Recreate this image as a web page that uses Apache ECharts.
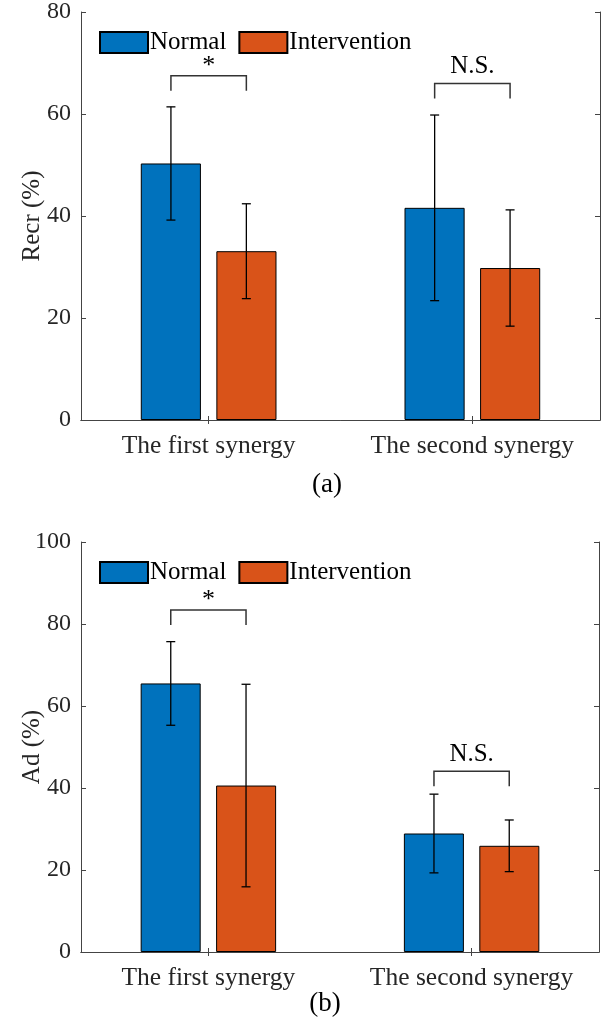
<!DOCTYPE html>
<html>
<head>
<meta charset="utf-8">
<script src="https://cdn.jsdelivr.net/npm/echarts@6/dist/echarts.min.js"></script>
<style>
  html, body { margin: 0; padding: 0; background: #fff; }
  #chart { width: 605px; height: 1021px; }
</style>
</head>
<body>
<div id="chart"></div>
<script>
// data
const categories = ['The first synergy', 'The second synergy']
const groupX = [1, 2]
const seriesNames = ['Normal', 'Intervention']

const recrNormal = [50.3, 41.6]
const recrNormalErr = [11.1, 18.2]
const recrInterv = [33.1, 29.8]
const recrIntervErr = [9.3, 11.4]
const recrSigTop = [67.5, 66.0]
const recrSigText = ['*', 'N.S.']

const adNormal = [65.5, 28.9]
const adNormalErr = [10.2, 9.6]
const adInterv = [40.6, 25.9]
const adIntervErr = [24.7, 6.3]
const adSigTop = [83.4, 44.1]
const adSigText = ['*', 'N.S.']

const yTicksA = [0, 80, 20]   // min, max, step
const yTicksB = [0, 100, 20]

const FONT = 'Liberation Serif'
const TXT = '#262626'
const AX = '#444'
const OFF = 0.143   // group offset in x units

let myChart = echarts.init(document.getElementById('chart'))

function errRender (sign) {
  return function (params, api) {
    const unit = api.size([1, 0])[0]
    const hi = api.coord([api.value(0), api.value(1)])
    const lo = api.coord([api.value(0), api.value(2)])
    const x = hi[0] + sign * OFF * unit
    const st = { stroke: '#000', lineWidth: 1.3 }
    return {
      type: 'group',
      children: [
        { type: 'line', shape: { x1: x, y1: hi[1], x2: x, y2: lo[1] }, style: st },
        { type: 'line', shape: { x1: x - 4.5, y1: hi[1], x2: x + 4.5, y2: hi[1] }, style: st },
        { type: 'line', shape: { x1: x - 4.5, y1: lo[1], x2: x + 4.5, y2: lo[1] }, style: st }
      ]
    }
  }
}

function sigRender (texts) {
  return function (params, api) {
    const unit = api.size([1, 0])[0]
    const p = api.coord([api.value(0), api.value(1)])
    const l = p[0] - OFF * unit
    const r = p[0] + OFF * unit
    const t = texts[params.dataIndex]
    return {
      type: 'group',
      children: [
        {
          type: 'polyline',
          shape: { points: [[l, p[1] + 15], [l, p[1]], [r, p[1]], [r, p[1] + 15]] },
          style: { stroke: '#333', lineWidth: 1.5, fill: null }
        },
        {
          type: 'text',
          x: p[0],
          y: t === '*' ? p[1] + 3 : p[1] - 4,
          style: {
            text: t,
            fontSize: t === '*' ? 26 : 25,
            fontFamily: FONT,
            fill: '#000',
            align: 'center',
            verticalAlign: 'bottom'
          }
        }
      ]
    }
  }
}

function panelSeries (g, normal, normalErr, interv, intervErr, sigTop, sigText) {
  const ax = { xAxisIndex: 2 * g, yAxisIndex: 2 * g }
  return [
    Object.assign({
      name: seriesNames[0],
      type: 'bar',
      data: groupX.map((x, i) => [x, normal[i]]),
      barWidth: '22.8%',
      barGap: '25.7%',
      itemStyle: { color: '#0072BD', borderColor: '#000', borderWidth: 1 }
    }, ax),
    Object.assign({
      name: seriesNames[1],
      type: 'bar',
      data: groupX.map((x, i) => [x, interv[i]]),
      barWidth: '22.8%',
      barGap: '25.7%',
      itemStyle: { color: '#D95319', borderColor: '#000', borderWidth: 1 }
    }, ax),
    Object.assign({
      type: 'custom',
      silent: true,
      z: 5,
      renderItem: errRender(-1),
      data: groupX.map((x, i) => [x, normal[i] + normalErr[i], normal[i] - normalErr[i]])
    }, ax),
    Object.assign({
      type: 'custom',
      silent: true,
      z: 5,
      renderItem: errRender(1),
      data: groupX.map((x, i) => [x, interv[i] + intervErr[i], interv[i] - intervErr[i]])
    }, ax),
    Object.assign({
      type: 'custom',
      silent: true,
      z: 5,
      renderItem: sigRender(sigText),
      data: groupX.map((x, i) => [x, sigTop[i]])
    }, ax)
  ]
}

function xAxes (g) {
  const base = {
    type: 'value',
    gridIndex: g,
    min: 0.516,
    max: 2.484,
    splitLine: { show: false },
    axisLine: { lineStyle: { color: AX, width: 1 } },
    axisTick: { inside: true, length: 4, customValues: groupX, lineStyle: { color: AX } }
  }
  return [
    Object.assign({}, base, {
      position: 'bottom',
      axisLabel: {
        customValues: groupX,
        formatter: v => categories[groupX.indexOf(v)],
        fontSize: 25.5,
        fontFamily: FONT,
        color: TXT,
        margin: 13
      }
    }),
    Object.assign({}, base, { position: 'top', axisLabel: { show: false } })
  ]
}

function yAxes (g, ticks, name) {
  const base = {
    type: 'value',
    gridIndex: g,
    min: ticks[0],
    max: ticks[1],
    interval: ticks[2],
    splitLine: { show: false },
    axisLine: { show: true, lineStyle: { color: AX, width: 1 } },
    axisTick: { show: true, inside: true, length: 5, lineStyle: { color: AX } }
  }
  return [
    Object.assign({}, base, {
      position: 'left',
      name: name,
      nameLocation: 'middle',
      nameGap: 36,
      nameMoveOverlap: false,
      nameTextStyle: { fontSize: 25, fontFamily: FONT, color: TXT },
      axisLabel: { fontSize: 24, fontFamily: FONT, color: TXT, margin: 10 }
    }),
    Object.assign({}, base, { position: 'right', axisLabel: { show: false } })
  ]
}

function legendAt (top) {
  return {
    data: seriesNames,
    left: 99,
    top: top,
    padding: 0,
    itemGap: 12,
    itemWidth: 48,
    itemHeight: 21,
    icon: 'rect',
    selectedMode: false,
    textStyle: { fontSize: 25, fontFamily: FONT, color: '#000', padding: [0, 0, 0, -3] }
  }
}

let option = {
  animation: false,
  backgroundColor: '#fff',
  grid: [
    { left: 81, top: 12, width: 519, height: 408, outerBoundsMode: 'none' },
    { left: 81, top: 542, width: 518, height: 410, outerBoundsMode: 'none' }
  ],
  legend: [legendAt(30), legendAt(560)],
  xAxis: xAxes(0).concat(xAxes(1)),
  yAxis: yAxes(0, yTicksA, 'Recr (%)').concat(yAxes(1, yTicksB, 'Ad (%)')),
  graphic: [
    { type: 'text', x: 327, y: 485, style: { text: '(a)', fontSize: 27, fontFamily: FONT, fill: '#000', align: 'center', verticalAlign: 'middle' } },
    { type: 'text', x: 325, y: 1004, style: { text: '(b)', fontSize: 27, fontFamily: FONT, fill: '#000', align: 'center', verticalAlign: 'middle' } }
  ],
  series: panelSeries(0, recrNormal, recrNormalErr, recrInterv, recrIntervErr, recrSigTop, recrSigText)
    .concat(panelSeries(1, adNormal, adNormalErr, adInterv, adIntervErr, adSigTop, adSigText))
}
myChart.setOption(option, true)
</script>
</body>
</html>
